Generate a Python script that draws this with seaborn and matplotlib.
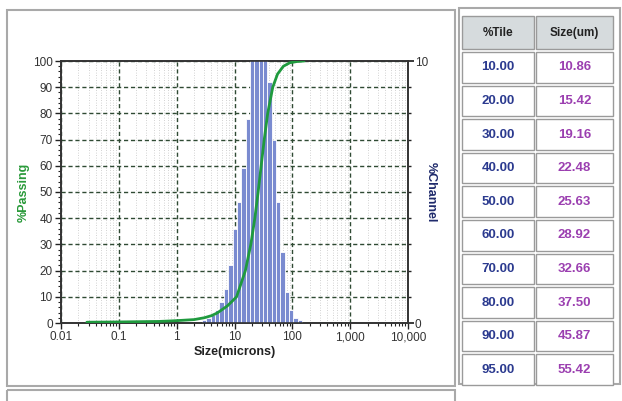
import numpy as np
import matplotlib
matplotlib.use('Agg')
import matplotlib.pyplot as plt
import seaborn as sns
from matplotlib.patches import Rectangle
from matplotlib.ticker import FixedLocator, FuncFormatter, LogLocator, NullFormatter, MultipleLocator

# channel edges (microns) and % in each channel
channel_edges = [2.75, 3.27, 3.89, 4.62, 5.50, 6.54, 7.78, 9.25, 11.00, 13.08, 15.56,
                 18.50, 22.00, 26.16, 31.11, 37.00, 44.00, 52.33, 62.23, 74.00, 88.00,
                 104.7, 124.5, 148.0]
channel_pct = [0.1, 0.2, 0.3, 0.5, 0.8, 1.3, 2.2, 3.6, 4.6, 5.9, 7.8,
               10.6, 13.0, 13.5, 11.2, 9.2, 7.0, 4.6, 2.7, 1.2, 0.5, 0.2, 0.1]

# cumulative % passing curve
curve_size = [0.028, 0.1, 0.5, 1.0, 2.0, 3.0, 4.0, 5.0, 6.0, 7.5, 9.0, 10.86, 15.42,
              19.16, 22.48, 25.63, 28.92, 32.66, 37.50, 45.87, 55.42, 70.0, 90.0,
              120.0, 160.0]
curve_pass = [0.3, 0.4, 0.6, 0.9, 1.3, 2.0, 2.8, 3.8, 5.0, 6.5, 8.2, 10, 20,
              30, 40, 50, 60, 70, 80, 90, 95, 98, 99.3, 99.8, 100]

# percentile table
pct_tile = ['10.00', '20.00', '30.00', '40.00', '50.00', '60.00', '70.00', '80.00', '90.00', '95.00']
size_um = ['10.86', '15.42', '19.16', '22.48', '25.63', '28.92', '32.66', '37.50', '45.87', '55.42']

sns.set_theme(style='white')
plt.rcParams['font.family'] = ['Liberation Sans Narrow', 'Liberation Sans', 'DejaVu Sans']

W, H = 622, 401
fig = plt.figure(figsize=(W / 100, H / 100), dpi=100)

# pixel-coordinate overlay for frames and table
bg = fig.add_axes([0, 0, 1, 1])
bg.set_xlim(0, W)
bg.set_ylim(H, 0)
bg.axis('off')
bg.add_patch(Rectangle((7, 10), 448, 376, fill=False, ec='#a9a9a9', lw=1.5))
bg.add_patch(Rectangle((7, 390), 448, 20, fill=False, ec='#a9a9a9', lw=1.5))
bg.add_patch(Rectangle((459, 8), 161, 376, fill=False, ec='#a9a9a9', lw=1.5))

# table cells
cols = [(462, 72), (536, 77)]
bg.add_patch(Rectangle((cols[0][0], 16), cols[0][1], 33, fc='#d6dbdd', ec='#9a9a9a', lw=1))
bg.add_patch(Rectangle((cols[1][0], 16), cols[1][1], 33, fc='#d6dbdd', ec='#9a9a9a', lw=1))
bg.text(cols[0][0] + cols[0][1] / 2, 33, '%Tile', ha='center', va='center',
        fontsize=8.5, fontweight='bold', color='#222222')
bg.text(cols[1][0] + cols[1][1] / 2, 33, 'Size(um)', ha='center', va='center',
        fontsize=8.5, fontweight='bold', color='#222222')
for i, (p, s) in enumerate(zip(pct_tile, size_um)):
    top = 52 + i * 33.6
    for (cx, cw) in cols:
        bg.add_patch(Rectangle((cx, top), cw, 30.5, fc='white', ec='#9a9a9a', lw=1))
    bg.text(cols[0][0] + cols[0][1] / 2, top + 15.5, p, ha='center', va='center',
            fontsize=9.5, fontweight='bold', color='#2b3a8f')
    bg.text(cols[1][0] + cols[1][1] / 2, top + 15.5, s, ha='center', va='center',
            fontsize=9.5, fontweight='bold', color='#9b3fb0')

# main chart
ax = fig.add_axes([61 / W, 1 - 323 / H, 347 / W, 262 / H])
ax.set_xscale('log')
ax.set_xlim(0.01, 10000)
ax.set_ylim(0, 100)

ax_bar = ax.twinx()
ax_bar.set_xscale('log')
centers = np.sqrt(np.array(channel_edges[:-1]) * np.array(channel_edges[1:]))
sns.histplot(x=centers, weights=channel_pct, bins=list(np.log10(channel_edges)), log_scale=True,
             ax=ax_bar, color='#7a8bd0', edgecolor='white', linewidth=0.6, alpha=1)
ax_bar.set_ylim(0, 10)
ax_bar.set_xlim(0.01, 10000)

ax_line = ax.twinx()
ax_line.set_ylim(0, 100)
sns.lineplot(x=curve_size, y=curve_pass, ax=ax_line, color='#1f9a3e', lw=2)
ax_line.set_xlim(0.01, 10000)
ax_line.axis('off')

# grid
ax.grid(which='major', axis='both', ls=(0, (3, 2)), color='#2f4a33', lw=1)
ax.grid(which='minor', axis='x', ls=(0, (1, 2)), color='#c4c4c4', lw=0.6)
ax.xaxis.set_major_locator(FixedLocator([0.01, 0.1, 1, 10, 100, 1000, 10000]))
ax.xaxis.set_minor_locator(LogLocator(base=10, subs=np.arange(2, 10)))
ax.xaxis.set_minor_formatter(NullFormatter())
ax.xaxis.set_major_formatter(FuncFormatter(lambda v, _: f'{v:,.0f}' if v >= 1 else f'{v:g}'))
ax.yaxis.set_major_locator(MultipleLocator(10))
ax.yaxis.set_minor_locator(MultipleLocator(2))

ax.tick_params(which='major', direction='out', length=4, width=1, labelsize=8.5,
               labelcolor='#333333', pad=2)
ax.tick_params(which='minor', direction='out', length=2.5, width=0.8)
ax.tick_params(axis='both', which='both', color='#222222', bottom=True, left=True)

ax_bar.set_yticks([0, 10])
ax_bar.yaxis.set_minor_locator(MultipleLocator(1))
ax_bar.tick_params(axis='y', which='major', direction='out', length=4, labelsize=8.5,
                   labelcolor='#333333', color='#222222', pad=1)
ax_bar.tick_params(axis='y', which='minor', direction='out', length=2, color='#222222', right=True)

for a in (ax, ax_bar):
    for sp in a.spines.values():
        sp.set_color('#333333')
        sp.set_linewidth(1.2)

ax.set_xlabel('Size(microns)', fontsize=9, fontweight='bold', color='#222222', labelpad=2)
ax.set_ylabel('%Passing', fontsize=9, fontweight='bold', color='#2a9a3a', labelpad=2)
ax_bar.set_ylabel('%Channel', fontsize=9, fontweight='bold', color='#1f2a6b',
                  rotation=270, labelpad=6)

fig.savefig('out.png', dpi=100)
